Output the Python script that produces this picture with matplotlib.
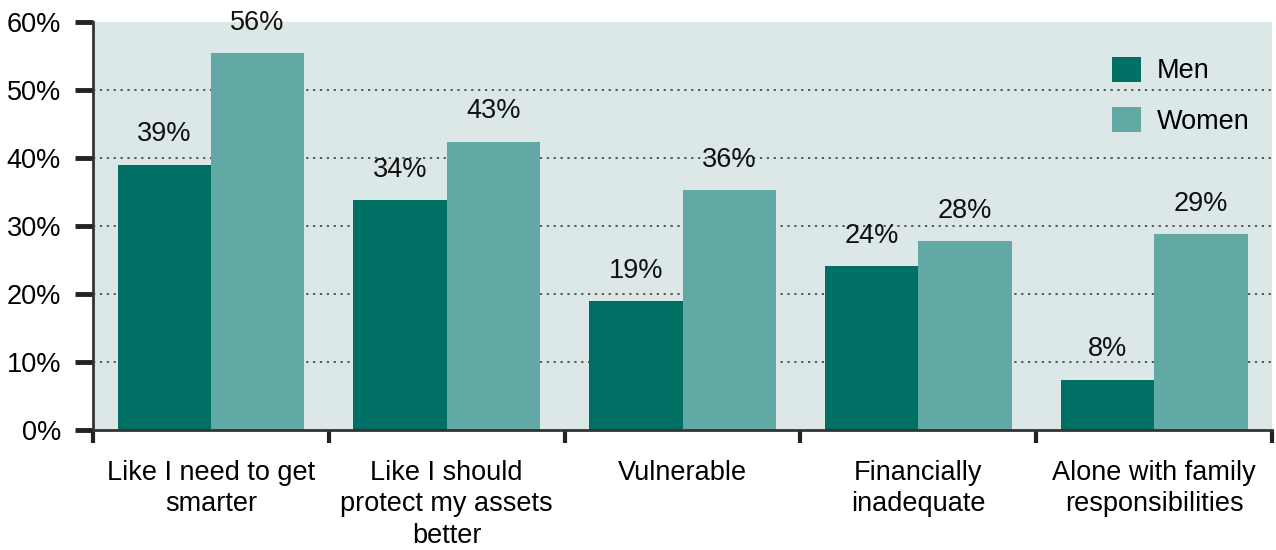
import numpy as np
import matplotlib.pyplot as plt

plt.rcParams['font.family'] = ['Liberation Sans', 'DejaVu Sans']

categories = ['Like I need to get\nsmarter', 'Like I should\nprotect my assets\nbetter',
              'Vulnerable', 'Financially\ninadequate', 'Alone with family\nresponsibilities']
men = [39.0, 33.8, 19.0, 24.1, 7.4]
women = [55.4, 42.4, 35.3, 27.8, 28.8]
men_labels = ['39%', '34%', '19%', '24%', '8%']
women_labels = ['56%', '43%', '36%', '28%', '29%']
yticks = [0, 10, 20, 30, 40, 50, 60]

c_men = '#006f64'
c_women = '#62a9a5'
bg = '#dbe8e7'
fs = 19.5

fig = plt.figure(figsize=(12.76, 5.5), dpi=100)
ax = fig.add_axes([0.0729, 0.218, 0.9240, 0.742])
ax.set_facecolor(bg)

x = np.arange(len(categories)) + 0.5
w = 0.396
b1 = ax.bar(x - w / 2, men, w, color=c_men, label='Men', zorder=2)
b2 = ax.bar(x + w / 2, women, w, color=c_women, label='Women', zorder=2)

for bars, labs in [(b1, men_labels), (b2, women_labels)]:
    for r, t in zip(bars, labs):
        ax.annotate(t, (r.get_x() + r.get_width() / 2, r.get_height()),
                    xytext=(0, 12.5), textcoords='offset points',
                    ha='center', va='bottom', fontsize=fs, color='#111111')

ax.set_xlim(0, 5)
ax.set_ylim(0, 60)
ax.set_yticks(yticks)
ax.set_yticklabels([f'{v}%' for v in yticks], fontsize=fs)
for v in yticks[1:-1]:
    ax.axhline(v, color='#333333', lw=1.1, ls=(0, (1.5, 3)), zorder=1)

ax.set_xticks(np.arange(6))
ax.set_xticklabels([])
ax.set_xticks(x, minor=True)
ax.set_xticklabels(categories, minor=True, fontsize=fs, linespacing=1.27, va='top')
ax.tick_params(axis='x', which='minor', length=0, pad=21.5)
ax.tick_params(axis='x', which='major', length=9, width=3, color='#222222', direction='out')
ax.tick_params(axis='y', length=13, width=3.5, color='#222222', pad=10)

for s in ['top', 'right']:
    ax.spines[s].set_visible(False)
ax.spines['left'].set_color('#333333')
ax.spines['left'].set_linewidth(2)
ax.spines['bottom'].set_color('#333333')
ax.spines['bottom'].set_linewidth(2)

ax.legend(loc='upper right', frameon=False, fontsize=fs, handlelength=1.05, handleheight=1.05,
          labelspacing=0.85, handletextpad=0.6, bbox_to_anchor=(1.0086, 0.995), borderaxespad=0.8)

fig.savefig('out.png', dpi=100)
